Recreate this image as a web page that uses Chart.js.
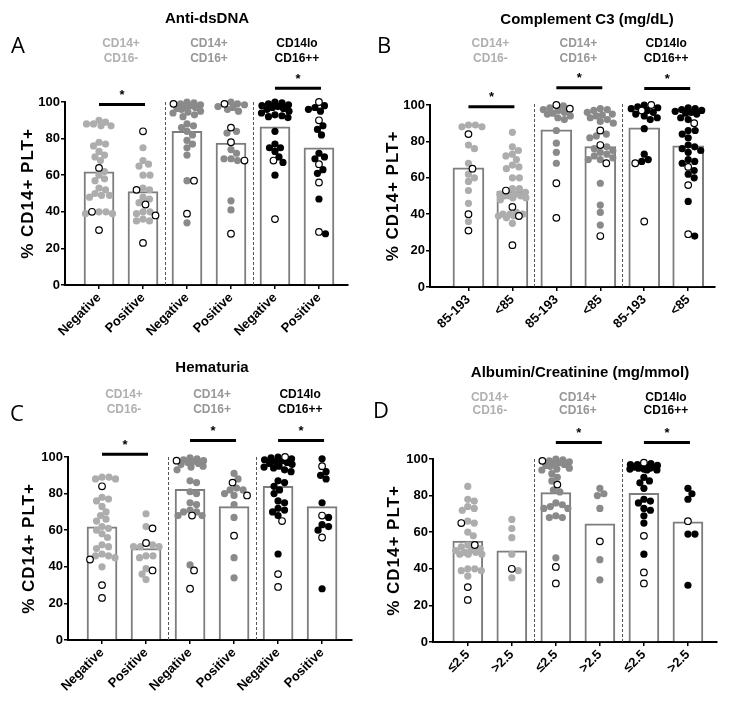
<!DOCTYPE html>
<html>
<head>
<meta charset="utf-8">
<script src="https://cdn.jsdelivr.net/npm/chart.js@4.4.1/dist/chart.umd.min.js"></script>
<style>
  body { margin: 0; background: #fff; width: 730px; height: 705px; position: relative; overflow: hidden; }
  canvas { position: absolute; }
</style>
</head>
<body>
<canvas id="pA" width="365" height="345" style="left:0;top:0"></canvas>
<canvas id="pB" width="365" height="345" style="left:365px;top:0"></canvas>
<canvas id="pC" width="365" height="360" style="left:0;top:345px"></canvas>
<canvas id="pD" width="365" height="360" style="left:365px;top:345px"></canvas>
<script>
// ---- data ----
const subsetNames = [['CD14+', 'CD16-'], ['CD14+', 'CD16+'], ['CD14lo', 'CD16++']];
const yTitle = '% CD14+ PLT+';

const labelsA = ['Negative', 'Positive', 'Negative', 'Positive', 'Negative', 'Positive'];
const barsA = [61.8, 51, 84, 77.5, 86.5, 75];
const filledA = [
  [90, 89, 88, 88, 87, 87, 78, 77, 76, 73, 71, 70, 68, 62, 60, 58, 57, 53, 52, 50, 49, 49, 48, 40, 40, 39, 39],
  [75, 68, 66, 65, 60, 60, 53, 52, 48, 47, 45, 40, 40, 39, 36, 35, 35],
  [100, 99.5, 99, 98.5, 98, 97.5, 97, 96.5, 96, 95, 94.5, 94, 93, 92, 88, 87, 86, 84, 82, 79, 77, 75, 71, 57, 34],
  [100, 99, 98.5, 97.5, 97, 96, 95, 84, 83, 74, 72, 69, 69, 68, 46, 41],
  [100, 99.5, 99, 98.5, 98, 97.5, 97, 96.5, 96, 95, 94, 93, 92.5, 92, 91.5, 84, 77, 75, 75, 73, 70, 67, 60],
  [98, 97, 96, 95, 87, 85, 82, 72, 70, 69, 63, 61, 47, 28]
];
const openA = [[64, 40, 30], [84, 52, 44, 38, 23], [99, 57, 39], [99, 86, 78, 68, 28], [68, 36], [100, 90, 66, 56, 29]];
const sigA = [[1, 2, 98.6], [5, 6, 107.5]];

const labelsB = ['85-193', '<85', '85-193', '<85', '85-193', '<85'];
const barsB = [65.5, 52.7, 86.3, 77.1, 87.5, 77.5];
const filledB = [
  [89, 89, 88, 88, 78, 76, 68, 62, 60, 58, 53, 46, 36],
  [85, 77, 75, 73, 72, 70, 67, 66, 65, 60, 60, 54, 54, 52, 51, 51, 50, 50, 50, 49, 49, 48, 41, 40, 40, 40, 39, 39, 38, 35],
  [99.5, 98.5, 97.5, 97, 96, 95.5, 95, 94, 93, 92, 86, 79, 74, 68],
  [98, 97.5, 97, 96, 95, 94.5, 94, 93, 92, 91, 90, 84, 83, 82, 77, 76, 75, 74, 73, 72, 71, 70, 70, 57, 45, 41, 34],
  [100, 99, 98.5, 98, 97, 96, 95, 94, 93, 92, 87, 73, 70, 69],
  [98.5, 98, 97.5, 97, 96.5, 96, 95.5, 95, 93, 92, 86, 86, 84, 82, 78, 77, 76, 75, 74, 70, 69, 68, 64, 62, 60, 47, 28]
];
const openB = [[84, 65, 40, 31], [53, 44, 39, 23], [100, 98, 57, 38], [86, 78, 68, 28], [100, 97, 68, 36], [90, 66, 56, 29]];
const sigB = [[1, 2, 99], [3, 4, 109.5], [5, 6, 109]];

const labelsC = ['Negative', 'Positive', 'Negative', 'Positive', 'Negative', 'Positive'];
const barsC = [61.8, 50, 82.4, 72.9, 84, 72.9];
const filledC = [
  [89, 89, 88, 88, 78, 77, 76, 73, 70, 68, 66, 65, 62, 61, 60, 58, 56, 52, 51, 50, 47, 46, 46, 45, 40],
  [69, 62, 52, 51, 51, 51, 46, 46, 45, 39, 36, 33],
  [99.5, 99, 98.5, 98, 97.5, 97, 96.5, 96, 95, 94.5, 93, 87, 86, 81, 80, 75, 74, 71, 70, 70, 68, 68, 41],
  [91, 88, 83, 82, 82, 80, 79, 74, 67, 45, 34],
  [100, 99.5, 99, 98.5, 98, 97.5, 97, 96.5, 96, 95, 94.5, 94, 93, 92, 87, 86, 84, 82, 80, 76, 75, 72, 71, 70, 68, 47],
  [99, 92, 90, 88, 75, 67, 63, 62, 60, 28]
];
const openC = [[84, 44, 30, 23], [61, 53, 38], [98, 68, 38, 28], [86, 79, 57], [100, 65, 36, 29], [95, 68, 56]];
const sigC = [[1, 2, 101.5], [3, 4, 109], [5, 6, 109]];

const labelsD = ['\u22642.5', '>2.5', '\u22642.5', '>2.5', '\u22642.5', '>2.5'];
const barsD = [55.1, 49.8, 81.6, 64.6, 81.2, 65.7];
const filledD = [
  [85, 78, 77, 74, 73, 72, 66, 65, 60, 58, 53, 52, 51, 50, 50, 49, 49, 48, 48, 48, 40, 40, 39, 39, 36],
  [67, 62, 57, 48, 39, 35],
  [100, 99.5, 99, 98.5, 98, 97.5, 97, 96.5, 96, 95, 94.5, 94, 92, 90, 88, 83, 82, 76, 75, 74, 73, 73, 69, 68, 68, 46],
  [84, 81, 80, 73, 45, 34],
  [97.5, 97, 96.5, 96, 95.5, 95, 94.5, 94, 94, 94.5, 95, 95.5, 96, 97, 90, 88, 87, 84, 78, 77, 76, 73, 72, 69, 65, 48],
  [84, 81, 78, 59, 59, 31]
];
const openD = [[65, 53, 30, 23], [40], [99, 86, 41, 32], [55], [98, 58, 38, 32], [66]];
const sigD = [[3, 4, 109], [5, 6, 109]];

// ---- styling ----
const FONT = "'Liberation Sans', Arial, Helvetica, sans-serif";
Chart.defaults.font.family = FONT;
const dotColors = ['#adadad', '#8a8a8a', '#000000'];
const subsetColors = ['#b0b0b0', '#979797', '#000000'];

const decoPlugin = {
  id: 'deco',
  beforeDatasetsDraw(chart, args, o) {
    const { ctx, scales: { x, y } } = chart;
    ctx.save();
    ctx.strokeStyle = '#555';
    ctx.lineWidth = 1;
    ctx.setLineDash([3, 2]);
    [2.5, 4.5].forEach((v) => {
      const px = Math.round(x.getPixelForValue(v)) + 0.5;
      ctx.beginPath();
      ctx.moveTo(px, y.getPixelForValue(0));
      ctx.lineTo(px, y.getPixelForValue(101));
      ctx.stroke();
    });
    ctx.restore();
  },
  afterDraw(chart, args, o) {
    const { ctx, chartArea: a, scales: { x, y } } = chart;
    ctx.save();
    ctx.textAlign = 'center';
    ctx.textBaseline = 'middle';
    ctx.fillStyle = '#000';
    ctx.font = 'bold 15px ' + FONT;
    ctx.fillText(o.title, o.titleX, o.titleY);
    ctx.font = '22px "Open Sans", sans-serif';
    ctx.fillText(o.letter, o.letterX, o.letterY);

    // subset headers over each pair of bars
    ctx.font = 'bold 12px ' + FONT;
    subsetNames.forEach((lines, k) => {
      ctx.fillStyle = subsetColors[k];
      const cx = x.getPixelForValue(1.5 + 2 * k);
      ctx.fillText(lines[0], cx, o.subY[0]);
      ctx.fillText(lines[1], cx, o.subY[1]);
    });

    // y axis title
    ctx.fillStyle = '#000';
    ctx.save();
    ctx.translate(o.yTitleX, (a.top + a.bottom) / 2);
    ctx.rotate(-Math.PI / 2);
    ctx.font = 'bold 17px ' + FONT;
    ctx.letterSpacing = '1px';
    ctx.fillText(yTitle, 0, 0);
    ctx.restore();

    // significance bars
    ctx.strokeStyle = '#000';
    ctx.lineWidth = 3;
    ctx.font = 'bold 13px ' + FONT;
    o.sig.forEach((s) => {
      const x1 = x.getPixelForValue(s[0]);
      const x2 = x.getPixelForValue(s[1]) + 2;
      const py = y.getPixelForValue(s[2]);
      ctx.beginPath();
      ctx.moveTo(x1, py);
      ctx.lineTo(x2, py);
      ctx.stroke();
      ctx.fillText('*', (x1 + x2) / 2, py - 9);
    });
    ctx.restore();
  }
};

// spread the points of each column sideways, kept within the bar width
function swarm(chart, filled, open) {
  const xs = chart.scales.x;
  const ys = chart.scales.y;
  const unit = xs.getPixelForValue(2) - xs.getPixelForValue(1);
  const d = 6.6;
  const maxW = 14;
  const fOut = [];
  const oOut = [];
  filled.forEach((vals, g) => {
    const pts = vals.map((v) => ({ v, open: false })).concat(open[g].map((v) => ({ v, open: true })));
    pts.sort((p, q) => q.v - p.v);
    const placed = [];
    pts.forEach((p) => {
      const py = ys.getPixelForValue(p.v);
      let best = 0;
      let bestScore = -1;
      for (let k = 0; ; k++) {
        const cand = (k % 2 ? 1 : -1) * Math.ceil(k / 2) * 0.5;
        if (Math.abs(cand) > maxW) break;
        let minD = Infinity;
        placed.forEach((q) => {
          const dd = Math.hypot(q.dx - cand, q.py - py);
          if (dd < minD) minD = dd;
        });
        if (minD >= d) { best = cand; break; }
        if (minD > bestScore + 0.3) { bestScore = minD; best = cand; }
      }
      placed.push({ dx: best, py });
      (p.open ? oOut : fOut).push({ x: g + 1 + best / unit, y: p.v, g });
    });
  });
  chart.data.datasets[1].data = fOut;
  chart.data.datasets[2].data = oOut;
  chart.update('none');
}

function makePanel(id, labels, bars, filled, open, sig, title, letter, L) {
  const axisFont = { family: FONT, size: 13, weight: 'bold' };
  const chart = new Chart(document.getElementById(id), {
    type: 'bar',
    data: {
      datasets: [
        {
          type: 'bar',
          data: bars.map((v, i) => ({ x: i + 1, y: v })),
          backgroundColor: '#ffffff',
          borderColor: '#7d7d7d',
          borderWidth: 2,
          barThickness: L.barW,
          order: 3
        },
        {
          type: 'scatter',
          data: [],
          pointRadius: 3.6,
          pointBorderWidth: 0,
          pointBackgroundColor: (c) => dotColors[c.raw ? c.raw.g >> 1 : 0],
          pointBorderColor: (c) => dotColors[c.raw ? c.raw.g >> 1 : 0],
          clip: false,
          order: 2
        },
        {
          type: 'scatter',
          data: [],
          pointRadius: 3.3,
          pointBorderWidth: 1.2,
          pointBackgroundColor: '#ffffff',
          pointBorderColor: '#000000',
          clip: false,
          order: 1
        }
      ]
    },
    options: {
      responsive: false,
      devicePixelRatio: 1,
      animation: false,
      events: [],
      layout: { padding: L.pad },
      plugins: {
        legend: { display: false },
        tooltip: { enabled: false },
        deco: {
          title, letter, sig,
          titleX: L.titleX, titleY: L.titleY,
          letterX: L.letterX, letterY: L.letterY,
          subY: L.subY, yTitleX: L.yTitleX
        }
      },
      scales: {
        x: {
          type: 'linear',
          min: L.xmin,
          max: L.xmax,
          offset: false,
          afterBuildTicks: (s) => { s.ticks = labels.map((_, i) => ({ value: i + 1 })); },
          afterFit: (s) => { s.height = 55; },
          ticks: {
            autoSkip: false,
            minRotation: 45,
            maxRotation: 45,
            padding: 1,
            color: '#000',
            font: axisFont,
            callback: (v) => labels[v - 1]
          },
          grid: { display: true, offset: false, drawOnChartArea: false, drawTicks: true, tickLength: 4, color: '#000', lineWidth: 1.5 },
          border: { display: true, color: '#000', width: 2 }
        },
        y: {
          min: 0,
          max: 100,
          afterFit: (s) => { s.width = 30; },
          ticks: { stepSize: 20, padding: 1, color: '#000', font: axisFont },
          grid: { display: true, drawOnChartArea: false, drawTicks: true, tickLength: 4, color: '#000', lineWidth: 1.5 },
          border: { display: true, color: '#000', width: 2 }
        }
      }
    },
    plugins: [decoPlugin]
  });
  swarm(chart, filled, open);
  return chart;
}

makePanel('pA', labelsA, barsA, filledA, openA, sigA, 'Anti-dsDNA', 'A', {
  pad: { left: 35, right: 17, top: 102, bottom: 5 },
  xmin: 0.227, xmax: 6.66, barW: 30,
  titleX: 207, titleY: 19, letterX: 18, letterY: 47,
  subY: [44, 59], yTitleX: 28
});
makePanel('pB', labelsB, barsB, filledB, openB, sigB, 'Complement C3 (mg/dL)', 'B', {
  pad: { left: 35, right: 15, top: 105, bottom: 3 },
  xmin: 0.125, xmax: 6.61, barW: 31,
  titleX: 222, titleY: 20, letterX: 19, letterY: 47,
  subY: [44, 59], yTitleX: 28.5
});
makePanel('pC', labelsC, barsC, filledC, openC, sigC, 'Hematuria', 'C', {
  pad: { left: 38, right: 13, top: 112, bottom: 10 },
  xmin: 0.227, xmax: 6.68, barW: 30,
  titleX: 212, titleY: 23, letterX: 17, letterY: 70,
  subY: [50, 65], yTitleX: 29
});
makePanel('pD', labelsD, barsD, filledD, openD, sigD, 'Albumin/Creatinine (mg/mmol)', 'D', {
  pad: { left: 38, right: 13, top: 114, bottom: 8 },
  xmin: 0.21, xmax: 6.66, barW: 30,
  titleX: 215, titleY: 28, letterX: 16, letterY: 67,
  subY: [53, 66], yTitleX: 29
});
</script>
</body>
</html>
